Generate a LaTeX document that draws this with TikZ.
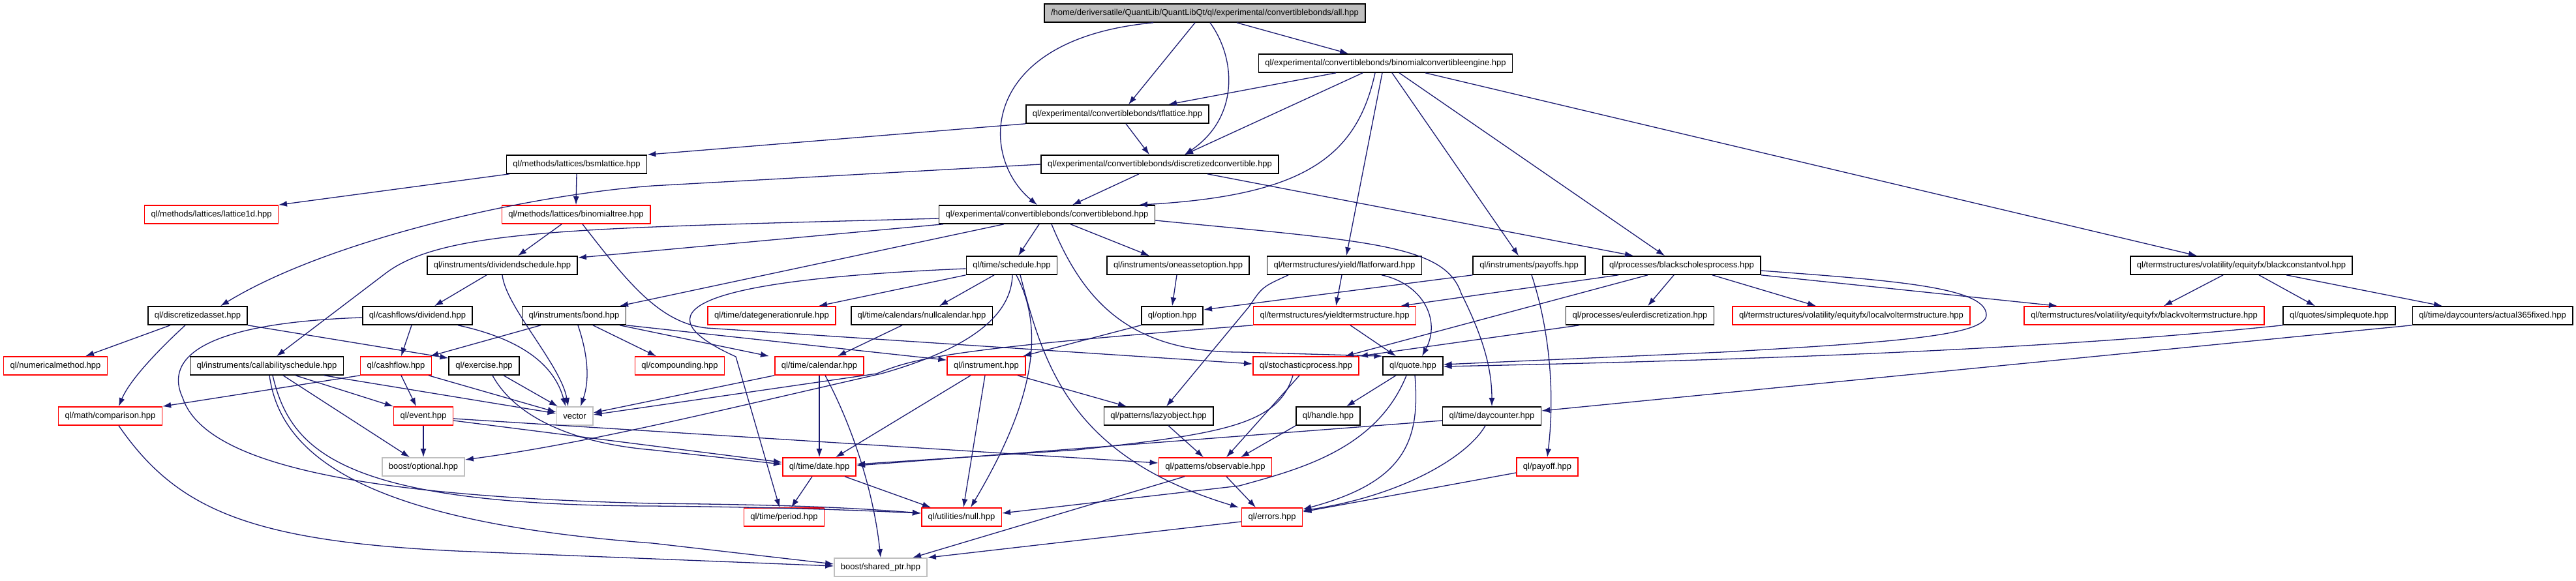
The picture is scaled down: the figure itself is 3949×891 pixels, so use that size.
\documentclass[tikz,border=0pt]{standalone}
\usepackage{fontspec}
\setmainfont{Liberation Sans}
\usetikzlibrary{arrows.meta}
\definecolor{edgeblue}{HTML}{191970}
\definecolor{incred}{HTML}{FF0000}
\definecolor{sysgrey}{HTML}{BFBFBF}

\begin{document}
\begin{tikzpicture}[
    x=1pt, y=-1pt,
    font=\fontsize{13}{15}\selectfont,
    box/.style={draw=black, fill=white, line width=1.6pt, inner xsep=10pt, inner ysep=0pt, minimum height=28pt},
    redbox/.style={box, draw=incred},
    sysbox/.style={box, draw=sysgrey},
    rootbox/.style={box, fill=sysgrey},
    arr/.style={edgeblue, line width=1.3pt, -{Latex[length=13pt,width=9pt]}}
  ]
    \useasboundingbox (0,0) rectangle (3949,891);

    \node[rootbox] (root) at (1847,20) {/home/deriversatile/QuantLib/QuantLibQt/ql/experimental/convertiblebonds/all.hpp};
    \node[box] (bce) at (2124,97) {ql/experimental/convertiblebonds/binomialconvertibleengine.hpp};
    \node[box] (tfl) at (1713,175) {ql/experimental/convertiblebonds/tflattice.hpp};
    \node[box] (bsml) at (884,252) {ql/methods/lattices/bsmlattice.hpp};
    \node[box] (dconv) at (1778,252) {ql/experimental/convertiblebonds/discretizedconvertible.hpp};
    \node[redbox] (lat1d) at (324,329) {ql/methods/lattices/lattice1d.hpp};
    \node[redbox] (bintree) at (883,329) {ql/methods/lattices/binomialtree.hpp};
    \node[box] (cbond) at (1605,329) {ql/experimental/convertiblebonds/convertiblebond.hpp};
    \node[box] (divsched) at (770,407) {ql/instruments/dividendschedule.hpp};
    \node[box] (sched) at (1551,407) {ql/time/schedule.hpp};
    \node[box] (oneasset) at (1806,407) {ql/instruments/oneassetoption.hpp};
    \node[box] (flatfwd) at (2061,407) {ql/termstructures/yield/flatforward.hpp};
    \node[box] (payoffs) at (2344,407) {ql/instruments/payoffs.hpp};
    \node[box] (bsp) at (2578,407) {ql/processes/blackscholesprocess.hpp};
    \node[box] (bcvol) at (3436,407) {ql/termstructures/volatility/equityfx/blackconstantvol.hpp};
    \node[box] (dasset) at (303,484) {ql/discretizedasset.hpp};
    \node[box] (dividend) at (640,484) {ql/cashflows/dividend.hpp};
    \node[box] (bond) at (880,484) {ql/instruments/bond.hpp};
    \node[redbox] (dgrule) at (1183,484) {ql/time/dategenerationrule.hpp};
    \node[box] (nullcal) at (1413,484) {ql/time/calendars/nullcalendar.hpp};
    \node[box] (option) at (1797,484) {ql/option.hpp};
    \node[redbox] (yts) at (2046,484) {ql/termstructures/yieldtermstructure.hpp};
    \node[box] (euler) at (2514,484) {ql/processes/eulerdiscretization.hpp};
    \node[redbox] (lvol) at (2838,484) {ql/termstructures/volatility/equityfx/localvoltermstructure.hpp};
    \node[redbox] (bvol) at (3287,484) {ql/termstructures/volatility/equityfx/blackvoltermstructure.hpp};
    \node[box] (squote) at (3586,484) {ql/quotes/simplequote.hpp};
    \node[box] (a365) at (3821,484) {ql/time/daycounters/actual365fixed.hpp};
    \node[redbox] (nummeth) at (85,561) {ql/numericalmethod.hpp};
    \node[box] (callsched) at (409,561) {ql/instruments/callabilityschedule.hpp};
    \node[redbox] (cashflow) at (607,561) {ql/cashflow.hpp};
    \node[box] (exercise) at (742,561) {ql/exercise.hpp};
    \node[redbox] (compounding) at (1042,561) {ql/compounding.hpp};
    \node[redbox] (calendar) at (1256,561) {ql/time/calendar.hpp};
    \node[redbox] (instrument) at (1512,561) {ql/instrument.hpp};
    \node[redbox] (stoch) at (2002,561) {ql/stochasticprocess.hpp};
    \node[box] (quote) at (2166,561) {ql/quote.hpp};
    \node[redbox] (comparison) at (169,638) {ql/math/comparison.hpp};
    \node[redbox] (event) at (649,638) {ql/event.hpp};
    \node[sysbox] (vector) at (881,638) {vector};
    \node[box] (lazy) at (1776,638) {ql/patterns/lazyobject.hpp};
    \node[box] (handle) at (2036,638) {ql/handle.hpp};
    \node[box] (daycounter) at (2287,638) {ql/time/daycounter.hpp};
    \node[sysbox] (optional) at (649,716) {boost/optional.hpp};
    \node[redbox] (date) at (1256,716) {ql/time/date.hpp};
    \node[redbox] (observable) at (1863,716) {ql/patterns/observable.hpp};
    \node[redbox] (payoff) at (2372,716) {ql/payoff.hpp};
    \node[redbox] (period) at (1202,793) {ql/time/period.hpp};
    \node[redbox] (nullu) at (1474,793) {ql/utilities/null.hpp};
    \node[redbox] (errors) at (1950,793) {ql/errors.hpp};
    \node[sysbox] (sharedptr) at (1350,870) {boost/shared\_ptr.hpp};

    \draw[arr] ([xshift=-79pt]root.south) .. controls (1500,60) and (1500,240) .. ([xshift=-15pt]cbond.north);
    \draw[arr] ([xshift=-15pt]root.south) -- ([xshift=17pt]tfl.north);
    \draw[arr] ([xshift=8pt]root.south) .. controls (1895,90) and (1900,180) .. ([xshift=38pt]dconv.north);
    \draw[arr] ([xshift=49pt]root.south) -- ([xshift=-57pt]bce.north);

    \draw[arr] ([xshift=-76pt]bce.south) -- ([xshift=78pt]tfl.north);
    \draw[arr] ([xshift=-35pt]bce.south) -- ([xshift=38pt]dconv.north);
    \draw[arr] ([xshift=-16pt]bce.south) .. controls (2080,240) and (2000,300) .. ([xshift=141pt]cbond.north);
    \draw[arr] ([xshift=-5pt]bce.south) -- ([xshift=3pt]flatfwd.north);
    \draw[arr] ([xshift=10pt]bce.south) -- ([xshift=-16pt]payoffs.north);
    \draw[arr] ([xshift=21pt]bce.south) -- ([xshift=-26pt]bsp.north);
    \draw[arr] ([xshift=61pt]bce.south) -- ([xshift=-68pt]bcvol.north);

    \draw[arr] (tfl.south west) -- (bsml.north east);
    \draw[arr] ([xshift=13pt]tfl.south) -- ([xshift=-16pt]dconv.north);
    \draw[arr] (bsml.south) -- (bintree.north);
    \draw[arr] ([xshift=-103pt]bsml.south) -- ([xshift=103pt]lat1d.north);
    \draw[arr] ([xshift=-22pt]bintree.south) -- ([xshift=24pt]divsched.north);
    \draw[arr] ([xshift=10pt]bintree.south) .. controls (960,430) and (1010,495) .. (1083,503) -- ([yshift=3pt]stoch.west);

    \draw[arr] ([xshift=-32pt]dconv.south) -- ([xshift=39pt]cbond.north);
    \draw[arr] (dconv.west) -- (1000,285) .. controls (800,300) and (500,370) .. ([xshift=35pt]dasset.north);
    \draw[arr] ([xshift=73pt]dconv.south) -- ([xshift=-74pt]bsp.north);

    \draw[arr] ([yshift=-6pt]cbond.west) .. controls (900,350) and (680,350) .. (590,420) -- ([xshift=15pt]callsched.north);
    \draw[arr] ([xshift=-159pt]cbond.south) -- ([yshift=-3pt]divsched.north east);
    \draw[arr] ([xshift=-66pt]cbond.south) -- ([xshift=70pt]bond.north);
    \draw[arr] ([xshift=-12pt]cbond.south) -- ([xshift=10pt]sched.north);
    \draw[arr] ([xshift=7pt]cbond.south) .. controls (1660,460) and (1730,540) .. (1900,540) -- (quote.north west);
    \draw[arr] ([xshift=36pt]cbond.south) -- ([xshift=-44pt]oneasset.north);
    \draw[arr] ([yshift=-9pt]cbond.east) .. controls (2100,370) and (2215,375) .. (2240,450) .. controls (2270,510) and (2287,560) .. (daycounter.north);

    \draw[arr] ([xshift=-24pt]divsched.south) -- ([xshift=26pt]dividend.north);
    \draw[arr] (divsched.south) .. controls (775,470) and (860,560) .. ([xshift=-10pt]vector.north);

    \draw[arr] ([yshift=-5pt]sched.west) .. controls (1050,430) and (980,480) .. (1128,547) -- ([xshift=-7pt]period.north);
    \draw[arr] (sched.south west) -- ([xshift=72pt]dgrule.north);
    \draw[arr] ([xshift=-27pt]sched.south) -- ([xshift=27pt]nullcal.north);
    \draw[arr] ([xshift=1pt]sched.south) .. controls (1550,500) and (1450,545) .. (1351,573) .. controls (1100,630) and (900,680) .. ([yshift=11pt]optional.east);
    \draw[arr] ([xshift=7pt]sched.south) .. controls (1610,520) and (1570,640) .. ([xshift=14pt]nullu.north);
    \draw[arr] ([xshift=13pt]sched.south) .. controls (1600,560) and (1640,700) .. ([xshift=-51pt]errors.north);

    \draw[arr] ([xshift=-2pt]oneasset.south) -- (option.north);
    \draw[arr] ([xshift=-4pt]flatfwd.south) -- ([xshift=2pt]yts.north);
    \draw[arr] ([xshift=57pt]flatfwd.south) .. controls (2180,435) and (2210,490) .. ([xshift=14pt]quote.north);
    \draw[arr] ([xshift=-86pt]flatfwd.south) .. controls (1935,440) .. (1915,470) -- ([xshift=12pt]lazy.north);
    \draw[arr] (payoffs.south west) -- ([yshift=9pt]option.east);
    \draw[arr] ([xshift=4pt]payoffs.south) .. controls (2380,520) and (2382,620) .. (payoff.north);

    \draw[arr] ([xshift=-97pt]bsp.south) -- ([xshift=101pt]yts.north);
    \draw[arr] ([xshift=-52pt]bsp.south) -- ([xshift=60pt]stoch.north);
    \draw[arr] ([xshift=-12pt]bsp.south) -- ([xshift=12pt]euler.north);
    \draw[arr] ([xshift=47pt]bsp.south) -- ([xshift=-54pt]lvol.north);
    \draw[arr] (bsp.south east) -- ([xshift=-133pt]bvol.north);
    \draw[arr] ([yshift=-8pt]bsp.east) .. controls (2900,430) and (3045,440) .. (3045,483) .. controls (3045,515) and (2900,525) .. (2640,540) -- ([yshift=2pt]quote.east);
    \draw[arr] ([xshift=-93pt]euler.south) -- (stoch.north east);

    \draw[arr] ([xshift=-28pt]bcvol.south) -- ([xshift=30pt]bvol.north);
    \draw[arr] ([xshift=27pt]bcvol.south) -- ([xshift=-37pt]squote.north);
    \draw[arr] ([xshift=69pt]bcvol.south) -- ([xshift=-77pt]a365.north);
    \draw[arr] (squote.south west) .. controls (3200,530) and (2800,550) .. ([yshift=-1pt]quote.east);
    \draw[arr] (a365.south west) -- ([yshift=8pt]daycounter.east);

    \draw[arr] ([xshift=-42pt]dasset.south) -- ([xshift=46pt]nummeth.north);
    \draw[arr] ([xshift=-19pt]dasset.south) .. controls (250,530) and (200,580) .. ([xshift=13pt]comparison.north);
    \draw[arr] (dasset.south east) -- ([yshift=-3pt]exercise.north west);
    \draw[arr] ([xshift=-9pt]dividend.south) -- ([xshift=8pt]cashflow.north);
    \draw[arr] ([xshift=62pt]dividend.south) .. controls (800,520) and (850,560) .. ([xshift=-14pt]vector.north);
    \draw[arr] ([yshift=-3pt]dividend.west) .. controls (320,495) and (250,545) .. (280,610) .. controls (310,700) and (500,760) .. (1000,772) .. controls (1200,774) and (1300,778) .. ([yshift=6pt]nullu.west);
    \draw[arr] ([xshift=-51pt]bond.south) -- ([xshift=-3pt]cashflow.north east);
    \draw[arr] ([xshift=6pt]bond.south) .. controls (900,540) and (905,580) .. ([xshift=9pt]vector.north);
    \draw[arr] ([xshift=29pt]bond.south) -- ([xshift=-36pt]compounding.north);
    \draw[arr] ([xshift=70pt]bond.south) -- ([xshift=-77pt]calendar.north);
    \draw[arr] (bond.south east) -- ([yshift=-6pt]instrument.north west);
    \draw[arr] ([xshift=-30pt]nullcal.south) -- ([xshift=28pt]calendar.north);
    \draw[arr] (option.south west) -- ([xshift=56pt]instrument.north);
    \draw[arr] ([xshift=24pt]yts.south) -- ([xshift=-26pt]quote.north);
    \draw[arr] (yts.south west) .. controls (1450,535) and (1400,550) .. (1344,573) -- ([yshift=2pt]vector.east);

    \draw[arr] (calendar.south) -- (date.north);
    \draw[arr] ([xshift=9pt]calendar.south) .. controls (1310,660) and (1340,760) .. (sharedptr.north);
    \draw[arr] (calendar.south west) -- ([yshift=5pt]vector.east);
    \draw[arr] ([xshift=-24pt]instrument.south) -- ([xshift=25pt]date.north);
    \draw[arr] ([xshift=-2pt]instrument.south) -- ([xshift=3pt]nullu.north);
    \draw[arr] ([xshift=48pt]instrument.south) -- ([xshift=-49pt]lazy.north);
    \draw[arr] ([xshift=-20pt]stoch.south) .. controls (1960,650) and (1880,665) .. (1650,690) -- ([yshift=4pt]date.east);
    \draw[arr] ([xshift=-10pt]stoch.south) -- ([xshift=17pt]observable.north);
    \draw[arr] ([xshift=-26pt]quote.south) -- ([xshift=28pt]handle.north);
    \draw[arr] ([xshift=-10pt]quote.south) .. controls (2110,690) and (1990,720) .. (1900,745) -- ([yshift=6pt]nullu.east);
    \draw[arr] ([xshift=3pt]quote.south) .. controls (2178,680) and (2150,740) .. ([yshift=12pt]errors.east);
    \draw[arr] ([xshift=13pt]exercise.south) .. controls (790,640) and (880,680) .. (1000,690) -- ([yshift=4pt]date.west);
    \draw[arr] ([xshift=30pt]exercise.south) -- ([xshift=-26pt]vector.north);
    \draw[arr] (cashflow.south west) -- (comparison.north east);
    \draw[arr] ([xshift=8pt]cashflow.south) -- ([xshift=-11pt]event.north);
    \draw[arr] ([xshift=50pt]cashflow.south) -- ([yshift=6pt]vector.west);
    \draw[arr] ([xshift=88pt]callsched.south) -- ([yshift=4pt]vector.west);
    \draw[arr] ([xshift=44pt]callsched.south) -- (event.north west);
    \draw[arr] ([xshift=25pt]callsched.south) -- ([xshift=-21pt]optional.north);
    \draw[arr] ([xshift=9pt]callsched.south) .. controls (445,690) and (520,775) .. (1000,776) .. controls (1200,778) and (1300,782) .. ([yshift=6pt]nullu.west);
    \draw[arr] ([xshift=4pt]callsched.south) .. controls (430,700) and (560,800) .. (1000,833) -- ([yshift=5pt]sharedptr.west);

    \draw[arr] ([xshift=13pt]comparison.south) .. controls (270,780) and (380,830) .. (700,845) -- ([yshift=2pt]sharedptr.west);
    \draw[arr] (event.south) -- (optional.north);
    \draw[arr] ([yshift=-7pt]event.east) -- ([yshift=7pt]date.west);
    \draw[arr] ([yshift=-4pt]event.east) -- ([yshift=6pt]observable.west);
    \draw[arr] ([xshift=15pt]lazy.south) -- ([xshift=-18pt]observable.north);
    \draw[arr] (handle.south west) -- ([xshift=39pt]observable.north);
    \draw[arr] ([yshift=-7pt]daycounter.west) -- ([yshift=2pt]date.east);
    \draw[arr] ([xshift=-10pt]daycounter.south) .. controls (2250,700) and (2150,760) .. ([yshift=10pt]errors.east);

    \draw[arr] ([xshift=-11pt]date.south) -- ([xshift=11pt]period.north);
    \draw[arr] ([xshift=39pt]date.south) -- ([xshift=-47pt]nullu.north);
    \draw[arr] ([xshift=17pt]observable.south) -- ([xshift=-25pt]errors.north);
    \draw[arr] ([xshift=-47pt]observable.south) -- ([xshift=49pt]sharedptr.north);
    \draw[arr] ([yshift=-9pt]payoff.west) -- ([yshift=8pt]errors.east);
    \draw[arr] ([yshift=-7pt]errors.west) -- (sharedptr.north east);
  \end{tikzpicture}
\end{document}
